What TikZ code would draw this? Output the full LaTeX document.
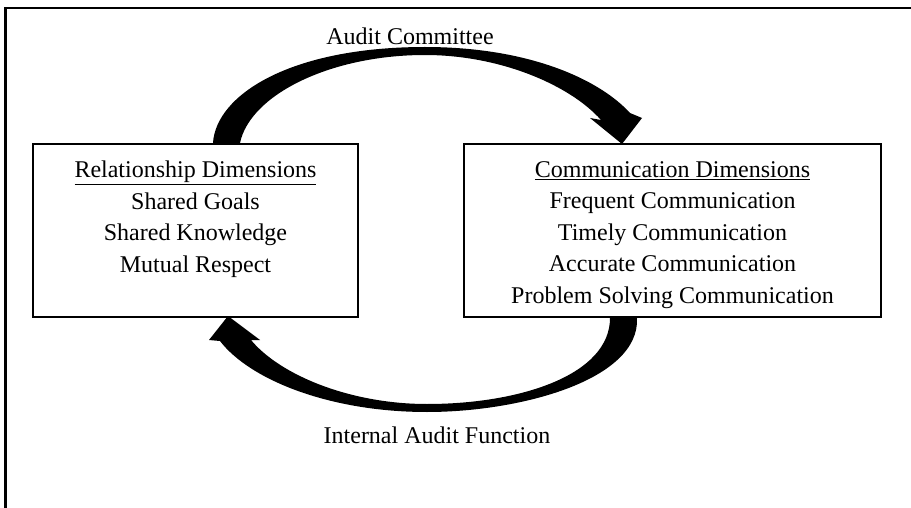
\documentclass[tikz,border=0pt]{standalone}
\usepackage{fontspec}
\setmainfont{Liberation Serif}
\usetikzlibrary{positioning,calc}

\tikzset{
  dimbox/.style={draw, line width=2pt, minimum width=325pt, minimum height=173pt, inner sep=0pt},
  dimtext/.style={align=center, inner sep=0pt, font=\fontsize{24}{31.5}\selectfont},
  flowlabel/.style={inner sep=0pt, font=\fontsize{24}{31.5}\selectfont},
  bigarrow/.style={fill=black, line join=round}
}

\begin{document}
\begin{tikzpicture}[x=1pt, y=-1pt]
  \useasboundingbox (0,0) rectangle (911,508);
  % frame (cut off at right and bottom)
  \draw[line width=2.3pt] (5.5,508) -- (5.5,7.8) -- (911,7.8);

  % the two boxes
  \node[dimbox] (rel) at (195.5,230.5) {};
  \node[dimbox, minimum width=417pt] (com) at (672.5,230.5) {};
  \node[dimtext, below=18pt of rel.north] (reltxt)
    {\underline{Relationship Dimensions}\\Shared Goals\\Shared Knowledge\\Mutual Respect};
  \node[dimtext, below=18pt of com.north] (comtxt)
    {\underline{Communication Dimensions}\\Frequent Communication\\Timely Communication\\Accurate Communication\\Problem Solving Communication};

  % arrow ends
  \coordinate (ta1) at ($(rel.north)+(17.5,0)$);
  \coordinate (ta2) at ($(rel.north)+(44.5,0)$);
  \coordinate (tip1) at ($(com.north)+(-50.5,1)$);
  \coordinate (ba1) at ($(com.south)+(-35.5,0)$);
  \coordinate (ba2) at ($(com.south)+(-62.5,0)$);
  \coordinate (tip2) at ($(rel.south)+(32.5,-2)$);

  % top arrow
  \fill[bigarrow] (ta1) .. controls (216,95) and (290,47) .. (425,47)
    .. controls (530,47) and (600,80) .. (630,113)
    -- (642,118) -- (tip1) -- (590,118) -- (601,120)
    .. controls (570,85) and (500,55) .. (425,55)
    .. controls (330,55) and (250,95) .. (ta2) -- cycle;

  % bottom arrow
  \fill[bigarrow] (ba1) .. controls (640,380) and (520,412) .. (427,412)
    .. controls (330,412) and (250,380) .. (220,341)
    -- (209,340) -- (tip2) -- (260,340) -- (251,340)
    .. controls (280,375) and (350,404) .. (427,404)
    .. controls (520,404) and (610,375) .. (ba2) -- cycle;

  \node[flowlabel] (audit) at (410,36) {Audit Committee};
  \node[flowlabel] (iaf) at (437,435) {Internal Audit Function};
\end{tikzpicture}
\end{document}
